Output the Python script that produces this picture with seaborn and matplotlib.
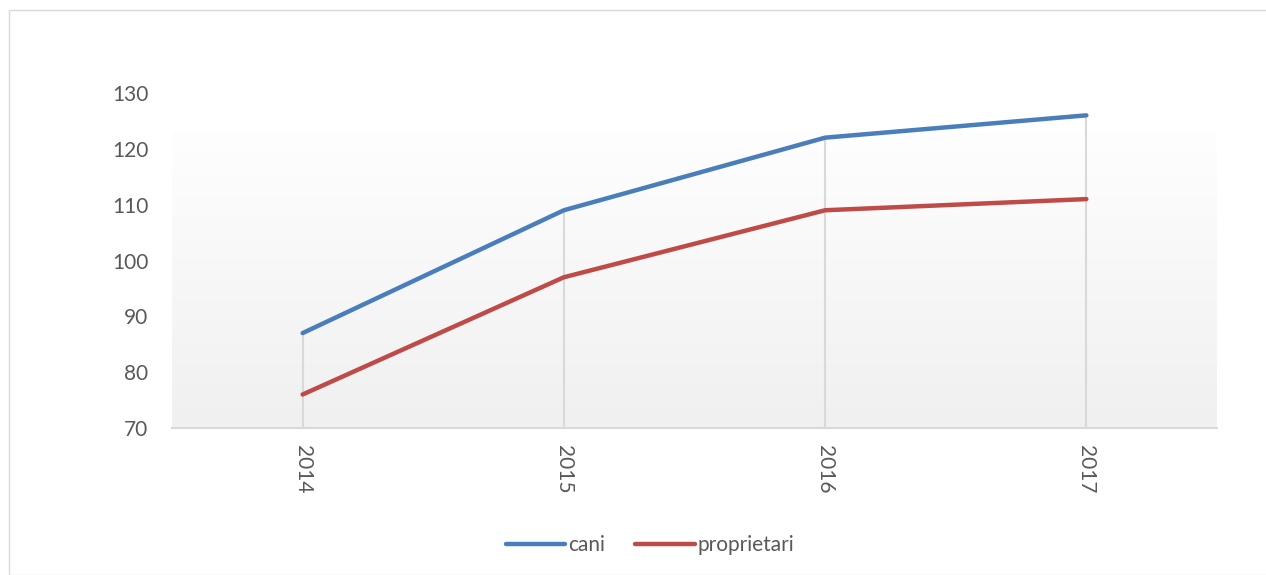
import numpy as np
import pandas as pd
import matplotlib
matplotlib.use("Agg")
import matplotlib.pyplot as plt
from matplotlib.patches import Rectangle
from matplotlib.lines import Line2D
import seaborn as sns

years = ["2014", "2015", "2016", "2017"]
cani = [87, 109, 122, 126]
proprietari = [76, 97, 109, 111]
series_names = ["cani", "proprietari"]
colors = ["#4a7ebb", "#be4b48"]
y_ticks = [70, 80, 90, 100, 110, 120, 130]

sns.set_theme(style="white")
plt.rcParams["font.family"] = ["Lato", "DejaVu Sans"]

pos = list(range(len(years)))
df = pd.DataFrame({
    "pos": pos * 2,
    "value": cani + proprietari,
    "series": [series_names[0]] * len(years) + [series_names[1]] * len(years),
})

fig = plt.figure(figsize=(12.66, 5.75), dpi=100)
ax = fig.add_axes([172 / 1266, 1 - 428 / 575, 1045 / 1266, 335 / 575])

# gradient background (white at top -> light grey at bottom)
grad = np.linspace(0, 1, 256).reshape(-1, 1)
cmap = matplotlib.colors.LinearSegmentedColormap.from_list("g", ["#f0f0f0", "#fefefe"])
ax.imshow(grad, aspect="auto", cmap=cmap, origin="lower",
          extent=[-0.5, len(years) - 0.5, 70, 123], zorder=0)

# drop lines
tops = [max(a, b) for a, b in zip(cani, proprietari)]
ax.vlines(pos, 70, tops, color="#d9d9d9", lw=1.5, zorder=1)

sns.lineplot(data=df, x="pos", y="value", hue="series", palette=colors,
             linewidth=3.2, ax=ax, legend=False, zorder=3,
             solid_capstyle="round")

ax.set_xlim(-0.5, len(years) - 0.5)
ax.set_ylim(70, 130)
ax.set_yticks(y_ticks)
ax.set_yticklabels([str(t) for t in y_ticks], color="#595959", fontsize=15)
ax.set_xticks(pos)
ax.set_xticklabels(years, rotation=-90, color="#595959", fontsize=15)
ax.tick_params(axis="both", length=0)
ax.tick_params(axis="x", pad=12)
ax.tick_params(axis="y", pad=17)
ax.set_xlabel("")
ax.set_ylabel("")
ax.grid(False)
for s in ["top", "right", "left"]:
    ax.spines[s].set_visible(False)
ax.spines["bottom"].set_color("#d9d9d9")
ax.spines["bottom"].set_linewidth(1.5)
ax.set_facecolor("none")

handles = [Line2D([0], [0], color=c, lw=3.2, solid_capstyle="round") for c in colors]
leg = fig.legend(handles, series_names, loc="center", bbox_to_anchor=(650 / 1266, 1 - 545 / 575),
                 ncol=2, frameon=False, fontsize=15, handlelength=2.85,
                 handletextpad=0.15, columnspacing=1.45)
for t in leg.get_texts():
    t.set_color("#595959")

fig.patches.append(Rectangle((9 / 1266, 0), 1.0, 1 - 10 / 575, transform=fig.transFigure,
                             fill=False, edgecolor="#d9d9d9", lw=1.0))

fig.savefig("out.png", dpi=100)
